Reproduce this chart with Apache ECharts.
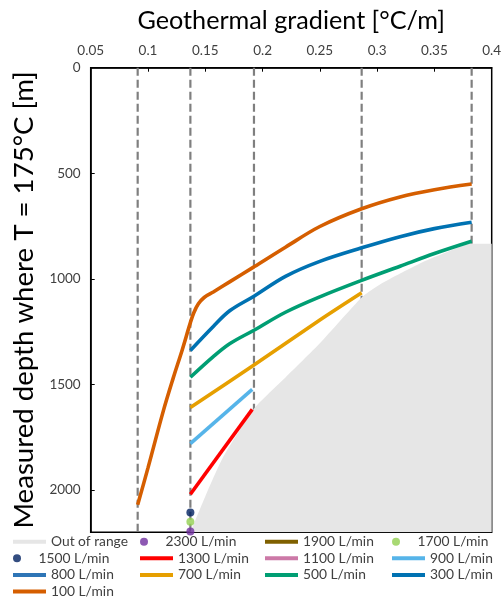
<!DOCTYPE html>
<html><head><meta charset="utf-8">
<script src="https://cdn.jsdelivr.net/npm/echarts@6/dist/echarts.min.js"></script>
<style>html,body{margin:0;padding:0;background:#fff}#c{width:504px;height:598px}</style>
</head><body><div id="c"></div>
<script>
// ---- data (gradient [°C/m], depth [m]) ----
const xTickLabels = [0.05, 0.1, 0.15, 0.2, 0.25, 0.3, 0.35, 0.4];
const yTickLabels = [0, 500, 1000, 1500, 2000];
const guideX = [0.091, 0.137, 0.1925, 0.2865, 0.3825];
const outOfRange = [[0.137,2200],[0.150,2030],[0.165,1850],[0.1925,1615],[0.22,1467],[0.25,1305],[0.2865,1088],[0.30,1035],[0.32,975],[0.34,920],[0.36,875],[0.3825,834],[0.4,834]];
const q2300 = [[0.137,2196]];
const q1900 = [];
const q1700 = [[0.137,2150]];
const q1500 = [[0.137,2106]];
const q1300 = [[0.137,2020],[0.191,1618]];
const q1100 = [];
const q900  = [[0.137,1780],[0.191,1523]];
const q800  = [];
const q700  = [[0.137,1609],[0.1925,1408],[0.25,1195],[0.2865,1066]];
const q500  = [[0.137,1466],[0.157,1368],[0.1716,1306],[0.1925,1243],[0.22,1158],[0.25,1085],[0.2865,1007],[0.32,940],[0.35,880],[0.3825,822]];
const q300  = [[0.137,1339],[0.157,1225],[0.1716,1150],[0.1925,1082],[0.22,988],[0.25,917],[0.2865,853],[0.32,800],[0.35,762],[0.3825,732]];
const q100  = [[0.091,2070],[0.100,1895],[0.1134,1625],[0.122,1470],[0.130,1334],[0.137,1207],[0.140,1160],[0.144,1118],[0.149,1088],[0.157,1062],[0.1716,1013],[0.1925,943],[0.22,850],[0.25,752],[0.2865,668],[0.32,612],[0.35,578],[0.3825,551]];

const seriesNames = ['Out of range','2300 L/min','1900 L/min','1700 L/min','1500 L/min','1300 L/min','1100 L/min','900 L/min','800 L/min','700 L/min','500 L/min','300 L/min','100 L/min'];
const seriesData  = [outOfRange, q2300, q1900, q1700, q1500, q1300, q1100, q900, q800, q700, q500, q300, q100];
const seriesKind  = ['area','dot','line','dot','dot','line','line','line','line','line','line','line','line'];
const seriesColor = ['#E6E6E6','#7030A0','#7F6000','#92D050','#002060','#FF0000','#CC79A7','#56B4E9','#2E75B6','#E69F00','#009E73','#0072B2','#D55E00'];
const seriesSmooth= [0.2,false,false,false,false,false,false,false,false,0.3,0.35,0.35,0.35];

// ---- helpers ----
const FAM = 'Lato';
const ctx = document.createElement('canvas').getContext('2d');
function fit(text, w){ ctx.font = '100px ' + FAM; return Math.round(100*w/ctx.measureText(text).width*10)/10; }
const titleX = 'Geothermal gradient [°C/m]';
const titleY = 'Measured depth where T = 175°C [m]';
const fsTitleX = fit(titleX, 308);
const fsTitleY = fit(titleY, 458);
const fsLegend = fit('Out of range', 77);
const fsTick = fit('0.05', 26.7);

const YMAX = 2200;
const series = [];
guideX.forEach(function(x){
  series.push({type:'line', data:[[x,0],[x,YMAX]], symbol:'none', silent:true, z:1,
    lineStyle:{color:'#7F7F7F', width:2.2, type:[8,4]}});
});
seriesNames.forEach(function(name,i){
  const k = seriesKind[i];
  if (k === 'dot') {
    series.push({name:name, type:'scatter', data:seriesData[i], symbol:'circle', symbolSize:8, clip:false, z:4,
      itemStyle:{color:seriesColor[i]}});
  } else if (k === 'area') {
    series.push({name:name, type:'line', data:seriesData[i], symbol:'none', z:2, color:seriesColor[i], smooth:seriesSmooth[i],
      lineStyle:{width:0, color:seriesColor[i]}, areaStyle:{color:seriesColor[i], opacity:1, origin:'end'}});
  } else {
    series.push({name:name, type:'line', data:seriesData[i], symbol:'none', z:3, color:seriesColor[i],
      smooth:seriesSmooth[i], lineStyle:{width:3.6, color:seriesColor[i]}});
  }
});

// legends laid out in a 4-column table
const colTextX = [51, 178, 303, 430];
const rowCY = [541.7, 558.3, 575, 591.5];
const legends = seriesNames.map(function(name,i){
  const r = Math.floor(i/4), c = i%4;
  const isDot = seriesKind[i] === 'dot';
  return {
    data:[{name:name, icon: isDot ? 'circle' : 'path://M0,0h33v4h-33z'}],
    left: colTextX[c]-38, top: rowCY[r]-8, padding:0, itemWidth:33, itemHeight:8,
    selectedMode:false,
    textStyle:{fontFamily:FAM, fontSize:fsLegend, color:'#404040', lineHeight:16}
  };
});

const chart = echarts.init(document.getElementById('c'), null, {renderer:'canvas'});
chart.setOption({
  animation:false,
  backgroundColor:'#fff',
  grid:{left:90.7, top:67.7, width:401, height:464.6, containLabel:false, outerBoundsMode:'none',
    show:true, borderColor:'#000', borderWidth:1.5, backgroundColor:'transparent'},
  xAxis:{type:'value', position:'top', min:xTickLabels[0], max:xTickLabels[xTickLabels.length-1], interval:0.05,
    name:titleX, nameLocation:'middle', nameGap:34,
    nameTextStyle:{fontFamily:FAM, fontSize:fsTitleX, color:'#000'},
    axisLine:{show:true, lineStyle:{color:'#000', width:1.5}},
    axisTick:{show:true, inside:true, length:4, lineStyle:{color:'#000'}},
    axisLabel:{fontFamily:FAM, fontSize:fsTick, color:'#404040', margin:10,
      formatter:function(v){ return xTickLabels.some(function(t){return Math.abs(t-v)<1e-9;}) ? String(+v.toFixed(2)) : ''; }},
    splitLine:{show:false}},
  yAxis:{type:'value', inverse:true, min:0, max:YMAX, interval:500,
    name:titleY, nameLocation:'middle', nameGap:53, nameRotate:90,
    nameTextStyle:{fontFamily:FAM, fontSize:fsTitleY, color:'#000'},
    axisLine:{show:true, lineStyle:{color:'#000', width:1.5}},
    axisTick:{show:true, inside:true, length:4, lineStyle:{color:'#000'}},
    axisLabel:{fontFamily:FAM, fontSize:fsTick, color:'#404040', margin:10, showMaxLabel:false,
      formatter:function(v){ return yTickLabels.indexOf(v) >= 0 ? String(v) : ''; }},
    splitLine:{show:false}},
  legend: legends,
  series: series
});
</script></body></html>
